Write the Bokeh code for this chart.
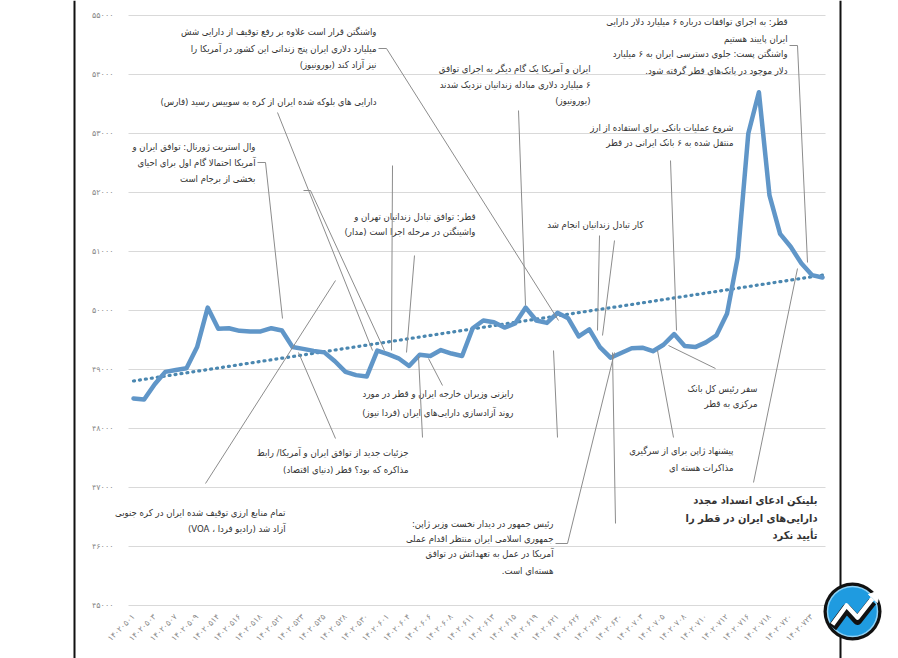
import math
import numpy as np
from bokeh.plotting import figure
from bokeh.models import ColumnDataSource, Range1d, FixedTicker
from bokeh.core.properties import value
from bokeh.embed import file_html
from bokeh.resources import INLINE

# ---------------- data ----------------
tick_dates = ["14020501", "14020503", "14020507", "14020509", "14020514", "14020516",
              "14020518", "14020521", "14020523", "14020525", "14020528", "14020530",
              "14020601", "14020604", "14020606", "14020608", "14020611", "14020613",
              "14020615", "14020619", "14020621", "14020626", "14020628", "14020630",
              "14020703", "14020705", "14020708", "14020710", "14020712", "14020716",
              "14020718", "14020720", "14020723"]

price_values = [48510, 48490, 48750, 48960, 48990, 49020, 49380, 50050, 49690, 49700,
                49655, 49645, 49645, 49700, 49660, 49380, 49350, 49315, 49290, 49140,
                48960, 48905, 48880, 49320, 49260, 49190, 49060, 49250, 49230, 49330,
                49270, 49230, 49700, 49830, 49800, 49710, 49780, 50050, 49830, 49790,
                49960, 49870, 49560, 49680, 49380, 49200, 49280, 49360, 49370, 49310,
                49420, 49600, 49400, 49380, 49460, 49580, 49950, 50900, 53000, 53700,
                51950, 51300, 51080, 50800, 50600, 50560]

y_ticks = [45000, 46000, 47000, 48000, 49000, 50000, 51000, 52000, 53000, 54000, 55000]

FA = str.maketrans("0123456789", "۰۱۲۳۴۵۶۷۸۹")
def fa(s):
    return str(s).translate(FA)

def rtl(s):
    return "\u202b" + s + "\u202c"

# ---------------- layout helpers (pixel -> data) ----------------
W, H = 898, 658
X0, DX = 133.0, 10.6
YREF, Y0, DY = 55000.0, 15.0, 0.059

def xd(px):
    return (px - X0) / DX

def yd(py):
    return YREF - (py - Y0) / DY

FONT = "DejaVu Sans Condensed"

p = figure(width=W, height=H, x_range=Range1d(xd(0), xd(W)), y_range=Range1d(yd(H), yd(0)),
           output_backend="svg", toolbar_location=None, min_border=0,
           outline_line_color=None, background_fill_color="white")
p.grid.visible = False

# axes
p.yaxis.fixed_location = xd(128)
p.yaxis.ticker = FixedTicker(ticks=y_ticks)
p.yaxis.major_label_overrides = {t: fa(t) for t in y_ticks}
p.yaxis.axis_line_color = None
p.yaxis.major_tick_line_color = None
p.yaxis.minor_tick_line_color = None
p.yaxis.major_label_text_font = "DejaVu Sans"
p.yaxis.major_label_text_font_size = "8px"
p.yaxis.major_label_text_color = "#8a8a8a"
p.yaxis.major_label_standoff = 9

x_idx = list(range(len(price_values)))
tick_pos = list(range(0, 2 * len(tick_dates), 2))
p.xaxis.fixed_location = 45000
p.xaxis.ticker = FixedTicker(ticks=tick_pos)
p.xaxis.major_label_overrides = {t: fa(d) for t, d in zip(tick_pos, tick_dates)}
p.xaxis.major_label_orientation = math.pi / 4
p.xaxis.axis_line_color = None
p.xaxis.major_tick_line_color = None
p.xaxis.minor_tick_line_color = None
p.xaxis.major_label_text_font = "DejaVu Sans"
p.xaxis.major_label_text_font_size = "8px"
p.xaxis.major_label_text_color = "#8a8a8a"
p.xaxis.major_label_standoff = 4

# gridlines (only across the plot area)
p.segment(x0=[xd(128)] * len(y_ticks), x1=[xd(825)] * len(y_ticks), y0=y_ticks, y1=y_ticks,
          line_color="#d9d9d9", line_width=1)

# trend (linear regression) and series
coef = np.polyfit(x_idx, price_values, 1)
trend = np.polyval(coef, x_idx)
p.line(x_idx, trend, line_color="#4a87b0", line_width=3.2, line_dash="1 5", line_cap="round")
p.line(x_idx, price_values, line_color="#6096c8", line_width=4.5, line_join="round", line_cap="round")

# ---------------- annotations ----------------
notes = [
    (["واشنگتن قرار است علاوه بر رفع توقیف از دارایی شش",
      "میلیارد دلاری ایران پنج زندانی این کشور در آمریکا را",
      "نیز آزاد کند (یورونیوز)"], 376, [31, 48, 64], "9.5px", "normal"),
    (["دارایی های بلوکه شده ایران از کره به سوییس رسید (فارس)"], 376, [101], "9.5px", "normal"),
    (["وال استریت ژورنال: توافق ایران و",
      "آمریکا احتمالا گام اول برای احیای",
      "بخشی از برجام است"], 255, [146, 162, 178], "9.5px", "normal"),
    (["قطر: توافق تبادل زندانیان تهران و",
      "واشینگتن در مرحله اجرا است (مدار)"], 475, [216, 231], "9.5px", "normal"),
    (["ایران و آمریکا یک گام دیگر به اجرای توافق",
      "۶ میلیارد دلاری مبادله زندانیان نزدیک شدند",
      "(یورونیوز)"], 590, [68, 84, 100], "9.5px", "normal"),
    (["قطر: به اجرای توافقات درباره ۶ میلیارد دلار دارایی",
      "ایران پایبند هستیم"], 787, [21, 38], "9.5px", "normal"),
    (["واشنگتن پست: جلوی دسترسی ایران به ۶ میلیارد",
      "دلار موجود در بانک\u200cهای قطر گرفته شود."], 787, [53, 70], "9.5px", "normal"),
    (["شروع عملیات بانکی برای استفاده از ارز",
      "منتقل شده به ۶ بانک ایرانی در قطر"], 733, [127, 142], "9.5px", "normal"),
    (["کار تبادل زندانیان انجام شد"], 643, [224], "9.5px", "normal"),
    (["رایزنی وزیران خارجه ایران و قطر در مورد",
      "روند آزادسازی دارایی\u200cهای ایران (فردا نیوز)"], 513, [393, 412], "9.5px", "normal"),
    (["جزئیات جدید از توافق ایران و آمریکا/ رابط",
      "مذاکره که بود؟ قطر (دنیای اقتصاد)"], 408, [452, 469], "9.5px", "normal"),
    (["تمام منابع ارزی توقیف شده ایران در کره جنوبی",
      "آزاد شد (رادیو فردا ، VOA)"], 285, [512, 528], "9.5px", "normal"),
    (["رئیس جمهور در دیدار نخست وزیر ژاپن:",
      "جمهوری اسلامی ایران منتظر اقدام عملی",
      "آمریکا در عمل به تعهداتش در توافق",
      "هسته\u200cای است."], 553, [523, 538, 553, 570], "9.5px", "normal"),
    (["سفر رئیس کل بانک", "مرکزی به قطر"], 757, [388, 403], "9.5px", "normal"),
    (["پیشنهاد ژاپن برای از سرگیری", "مذاکرات هسته ای"], 733, [450, 467], "9.5px", "normal"),
    (["بلینکن ادعای انسداد مجدد", "دارایی\u200cهای ایران در قطر را", "تأیید نکرد"],
     817, [500, 518, 535], "11px", "bold"),
]

tx, ty, tt, ts, tst = [], [], [], [], []
for lines, right, ys, size, style in notes:
    for line, yy in zip(lines, ys):
        tx.append(xd(right)); ty.append(yd(yy)); tt.append(rtl(line)); ts.append(size); tst.append(style)

src = ColumnDataSource(dict(x=tx, y=ty, text=tt, size=ts, style=tst))
p.text(x="x", y="y", text="text", source=src, text_align="right", text_baseline="middle",
       text_font=value(FONT), text_font_size="size", text_font_style="style",
       text_color="#333333")

leaders = [
    [(378, 48), (386, 48), (558, 320)],
    [(277, 112), (372, 350)],
    [(257, 162), (265, 162), (282, 318)],
    [(303, 190), (310, 190), (384, 350)],
    [(392, 165), (391, 350)],
    [(414, 255), (406, 352)],
    [(518, 110), (525, 305)],
    [(789, 45), (797, 45), (807, 262)],
    [(670, 160), (676, 330)],
    [(599, 235), (597, 330)],
    [(614, 240), (602, 335)],
    [(442, 385), (428, 358)],
    [(335, 438), (298, 352)],
    [(422, 437), (418, 356)],
    [(205, 483), (335, 280)],
    [(555, 543), (567, 543), (614, 352)],
    [(615, 523), (612, 352)],
    [(715, 368), (668, 345)],
    [(673, 437), (657, 350)],
    [(753, 482), (797, 268)],
    [(557, 437), (553, 350)],
]
p.multi_line(xs=[[xd(a) for a, b in seg] for seg in leaders],
             ys=[[yd(b) for a, b in seg] for seg in leaders],
             line_color="#8c8c8c", line_width=1)

# frame borders of the screenshot
p.segment(x0=[xd(74), xd(840)], x1=[xd(74), xd(840)], y0=[yd(0), yd(0)], y1=[yd(H), yd(H)],
          line_color="#111111", line_width=2)

# logo
p.scatter([xd(852)], [yd(611)], size=58, fill_color="#111111", line_color=None)
p.scatter([xd(852)], [yd(611)], size=50, fill_color="#1f9be0", line_color="#8fd3f7", line_width=1.5)
zig = [(832, 624), (846, 605), (857, 617), (872, 598)]
p.line([xd(a) for a, b in zig], [yd(b + 3) for a, b in zig], line_color="#111111", line_width=9, line_join="round")
p.line([xd(a) for a, b in zig], [yd(b) for a, b in zig], line_color="white", line_width=4.5, line_join="round")
p.patch([xd(868), xd(879), xd(877)], [yd(594), yd(590), yd(602)], fill_color="white", line_color="white")

open("out.html", "w").write(file_html(p, INLINE))
